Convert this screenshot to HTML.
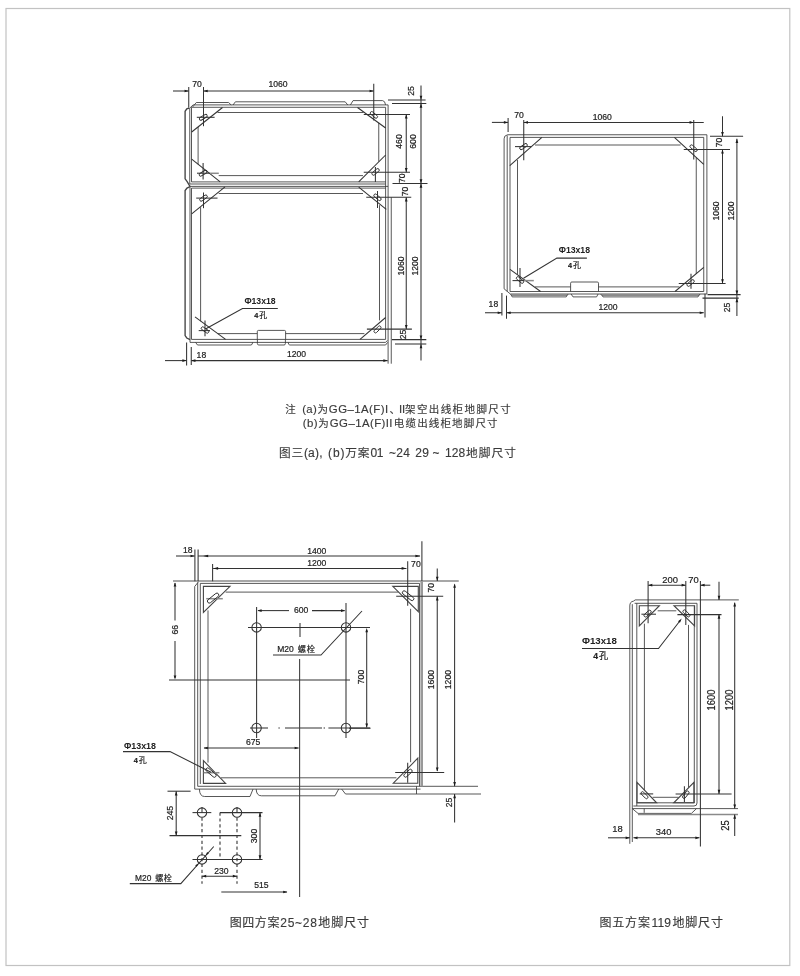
<!DOCTYPE html>
<html lang="zh">
<head>
<meta charset="utf-8">
<title>地脚尺寸</title>
<style>
html,body{margin:0;padding:0;background:#fff;}
body{width:800px;height:976px;overflow:hidden;font-family:"Liberation Sans","Noto Sans CJK SC",sans-serif;}
svg{display:block;position:absolute;left:0;top:0;filter:blur(.28px);}
svg line,svg path,svg rect,svg circle{fill:none;stroke-linecap:butt;stroke-linejoin:miter;}
.d{stroke:#333;stroke-width:1.05;}
.f{stroke:#3a3a3a;stroke-width:.85;}
.f2{stroke:#444;stroke-width:1.35;}
.g{stroke:#8a8a8a;stroke-width:1.5;}
.k{stroke:#999;stroke-width:2.6;}
.h{stroke:#444;stroke-width:1.1;}
.s{stroke:#2a2a2a;stroke-width:.9;fill:none;}
.da{stroke:#333;stroke-width:1.1;stroke-dasharray:3.2 2.6;}
.b{stroke:#c2c2c2;stroke-width:1.2;}
svg .a{fill:#1c1c1c;stroke:none;}
svg text{stroke:none;fill:#333;font-family:"Liberation Sans","Noto Sans CJK SC",sans-serif;}
svg .t{fill:#222;stroke:#222;stroke-width:.2;}
svg .tb{fill:#222;font-weight:bold;}
svg .c{fill:#3a3a3a;stroke:#3a3a3a;stroke-width:.15;}
</style>
</head>
<body>
<svg width="800" height="976" viewBox="0 0 800 976">
<rect class="b" x="6" y="8.5" width="783.8" height="957"/>
<!-- drawing 1 : fig 3(a) two stacked frames -->
<path class="f" d="M189.75 184 L189.75 108.1 L193.1 104.9 L388.1 104.9 L388.1 363.7"/>
<path class="f" d="M191.5 181.9 L191.5 107.3 L385.6 107.3 L385.6 339.4"/>
<line class="f" x1="191.5" y1="181.9" x2="385.6" y2="181.9"/>
<line class="f" x1="189.75" y1="184" x2="385.6" y2="184"/>
<path class="f" d="M192.6 107 L196.3 102.5 L228.6 102.5 L231.2 105"/>
<path class="f" d="M233 105 L235.4 101.8 L345.2 101.8 L347.8 105"/>
<path class="f" d="M350.4 105 L353 100.6 H382.6 Q385 100.8 385.6 104.9"/>
<path class="f2" d="M189.4 108 L186.8 108.8 L185.1 111.3 L185.1 178.8 L187 181.4 L190 186.3"/>
<line class="f" x1="217.5" y1="112.5" x2="363.5" y2="112.5"/>
<line class="f" x1="218.7" y1="175.6" x2="363" y2="175.6"/>
<line class="f" x1="198.1" y1="127" x2="198.1" y2="164.4"/>
<line class="f" x1="378.75" y1="122.8" x2="378.75" y2="161.6"/>
<line class="d" x1="222.5" y1="107.5" x2="191.7" y2="132"/>
<line class="d" x1="357.5" y1="107.5" x2="385.6" y2="128"/>
<line class="d" x1="191.7" y1="159.2" x2="220.2" y2="181.9"/>
<line class="d" x1="385.6" y1="155" x2="358.7" y2="181.9"/>
<rect class="s" x="199" y="115.8" width="8.6" height="3" rx="1.5" transform="rotate(-30 203.3 117.3)"/>
<rect class="s" x="369.6" y="113.4" width="8.6" height="3" rx="1.5" transform="rotate(40 373.9 114.9)"/>
<rect class="s" x="198.8" y="171.7" width="8.6" height="3" rx="1.5" transform="rotate(-30 203.1 173.2)"/>
<rect class="s" x="371.3" y="170.4" width="8.6" height="3" rx="1.5" transform="rotate(-40 375.6 171.9)"/>
<line class="d" x1="196.8" y1="117.3" x2="214.6" y2="117.3"/>
<line class="d" x1="203.1" y1="163" x2="203.1" y2="179.4"/>
<line class="d" x1="197" y1="173.2" x2="210" y2="173.2"/>
<line class="g" x1="210" y1="173.3" x2="218.8" y2="173.3"/>
<line class="d" x1="375.4" y1="166.9" x2="375.4" y2="181.9"/>
<line class="f" x1="190" y1="186.4" x2="388.1" y2="186.4"/>
<path class="f" d="M385.6 188.1 L191.5 188.1 L191.5 339.4 L385.6 339.4"/>
<path class="f" d="M190 186.4 L190 342.4 L385.6 342.4 L387.4 340.4"/>
<line class="f" x1="391.25" y1="197.25" x2="391.25" y2="363.7"/>
<path class="f2" d="M190 186.6 L187 188.1 L185.1 190.6 L185.1 335.6 L186.8 338 L190 339.6"/>
<line class="f" x1="218.7" y1="193.5" x2="363" y2="193.5"/>
<line class="f" x1="200.6" y1="207.2" x2="200.6" y2="321.3"/>
<line class="f" x1="379.5" y1="205.2" x2="379.5" y2="320.4"/>
<line class="f" x1="218" y1="333.6" x2="257.2" y2="333.6"/>
<line class="f" x1="285.6" y1="333.6" x2="364.4" y2="333.6"/>
<line class="d" x1="225" y1="186.9" x2="191.7" y2="213.8"/>
<line class="d" x1="358.7" y1="187.2" x2="386.3" y2="209.4"/>
<line class="d" x1="195" y1="316.9" x2="225.6" y2="339.4"/>
<line class="d" x1="385.6" y1="317.5" x2="360" y2="339.4"/>
<rect class="s" x="199.2" y="196.6" width="8.6" height="3" rx="1.5" transform="rotate(-35 203.5 198.1)"/>
<rect class="s" x="373.2" y="195.8" width="8.6" height="3" rx="1.5" transform="rotate(40 377.5 197.3)"/>
<rect class="s" x="200.7" y="328.5" width="8.6" height="3" rx="1.5" transform="rotate(35 205 330)"/>
<rect class="s" x="373.2" y="327.9" width="8.6" height="3" rx="1.5" transform="rotate(-45 377.5 329.4)"/>
<line class="d" x1="196.2" y1="198.1" x2="217.5" y2="198.1"/>
<line class="d" x1="203.5" y1="192.5" x2="203.5" y2="208.2"/>
<line class="d" x1="377.5" y1="191" x2="377.5" y2="208"/>
<line class="d" x1="205" y1="320.6" x2="205" y2="336.3"/>
<line class="d" x1="198.7" y1="330.6" x2="210" y2="330.6"/>
<path class="f" d="M257.3 339.4 V331.6 Q257.3 330.4 258.5 330.4 H284.4 Q285.6 330.4 285.6 331.6 V339.4"/>
<path class="f" d="M195.6 342.4 L197.5 345 H251 Q252.4 345 252.6 342.4"/>
<path class="f" d="M257.4 339.4 V343.6 Q257.4 345 258.8 345 H284 Q285.4 345 285.4 343.6 V339.4"/>
<path class="f" d="M288.2 342.4 Q288.4 345 289.8 345 H385.6 L387.6 342.4"/>
<line class="d" x1="173" y1="91" x2="188.75" y2="91"/>
<polygon class="a" points="188.75,91 184.55,92.35 184.55,89.65"/>
<line class="d" x1="203.5" y1="91" x2="373.75" y2="91"/>
<polygon class="a" points="203.5,91 207.7,89.65 207.7,92.35"/>
<polygon class="a" points="373.75,91 369.55,92.35 369.55,89.65"/>
<line class="d" x1="188.75" y1="87" x2="188.75" y2="107.5"/>
<line class="d" x1="203.5" y1="87" x2="203.5" y2="126.2"/>
<line class="d" x1="373.75" y1="83.75" x2="373.75" y2="120.5"/>
<text class="t" font-size="8.6" text-anchor="middle" x="197" y="87">70</text>
<text class="t" font-size="8.6" text-anchor="middle" x="278" y="87">1060</text>
<line class="d" x1="388" y1="100" x2="425.6" y2="100"/>
<line class="d" x1="392" y1="103.5" x2="426.3" y2="103.5"/>
<line class="d" x1="363.75" y1="114.4" x2="410" y2="114.4"/>
<line class="d" x1="363.75" y1="172.25" x2="410" y2="172.25"/>
<line class="d" x1="392.5" y1="183.5" x2="427.5" y2="183.5"/>
<line class="d" x1="366.25" y1="197.25" x2="411.25" y2="197.25"/>
<line class="d" x1="366.9" y1="329.1" x2="411.9" y2="329.1"/>
<line class="d" x1="391.9" y1="339.6" x2="426.3" y2="339.6"/>
<line class="d" x1="395" y1="344" x2="426.3" y2="344"/>
<line class="d" x1="406.25" y1="114.4" x2="406.25" y2="172.25"/>
<polygon class="a" points="406.25,114.4 407.6,118.6 404.9,118.6"/>
<polygon class="a" points="406.25,172.25 404.9,168.05 407.6,168.05"/>
<line class="d" x1="406.25" y1="197.25" x2="406.25" y2="329.1"/>
<polygon class="a" points="406.25,197.25 407.6,201.45 404.9,201.45"/>
<polygon class="a" points="406.25,329.1 404.9,324.9 407.6,324.9"/>
<line class="d" x1="421" y1="85.6" x2="421" y2="360.6"/>
<polygon class="a" points="421,100 419.65,95.8 422.35,95.8"/>
<polygon class="a" points="421,103.5 422.35,107.7 419.65,107.7"/>
<polygon class="a" points="421,183.5 419.65,179.3 422.35,179.3"/>
<polygon class="a" points="421,183.5 422.35,187.7 419.65,187.7"/>
<polygon class="a" points="421,339.6 419.65,335.4 422.35,335.4"/>
<polygon class="a" points="421,344 422.35,348.2 419.65,348.2"/>
<text class="t" font-size="8.6" text-anchor="middle" transform="translate(414.01 91) rotate(-90) scale(1 1.1)" x="0" y="0">25</text>
<text class="t" font-size="8.6" text-anchor="middle" transform="translate(402.16 141.5) rotate(-90) scale(1 1.1)" x="0" y="0">460</text>
<text class="t" font-size="8.6" text-anchor="middle" transform="translate(416.41 141.5) rotate(-90) scale(1 1.1)" x="0" y="0">600</text>
<text class="t" font-size="8.6" text-anchor="middle" transform="translate(404.66 178.2) rotate(-90) scale(1 1.1)" x="0" y="0">70</text>
<text class="t" font-size="8.6" text-anchor="middle" transform="translate(407.81 191.6) rotate(-90) scale(1 1.1)" x="0" y="0">70</text>
<text class="t" font-size="8.6" text-anchor="middle" transform="translate(403.91 266) rotate(-90) scale(1 1.1)" x="0" y="0">1060</text>
<text class="t" font-size="8.6" text-anchor="middle" transform="translate(417.71 266) rotate(-90) scale(1 1.1)" x="0" y="0">1200</text>
<text class="t" font-size="8.6" text-anchor="middle" transform="translate(405.51 334.6) rotate(-90) scale(1 1.1)" x="0" y="0">25</text>
<line class="d" x1="165" y1="360.6" x2="186.6" y2="360.6"/>
<polygon class="a" points="186.6,360.6 182.4,361.95 182.4,359.25"/>
<line class="d" x1="191.25" y1="360.6" x2="387.6" y2="360.6"/>
<polygon class="a" points="191.25,360.6 195.45,359.25 195.45,361.95"/>
<polygon class="a" points="387.6,360.6 383.4,361.95 383.4,359.25"/>
<line class="d" x1="186.6" y1="342.5" x2="186.6" y2="365.6"/>
<line class="d" x1="191.25" y1="346.9" x2="191.25" y2="365"/>
<text class="t" font-size="8.6" text-anchor="middle" x="201.4" y="358">18</text>
<text class="t" font-size="8.6" text-anchor="middle" x="296.5" y="356.5">1200</text>
<path class="d" d="M205.5 329 L242.5 308.5 L277.8 308.5"/>
<text class="tb" font-size="8.7" text-anchor="middle" textLength="31.2" lengthAdjust="spacing" x="260" y="304.4">Φ13x18</text>
<text class="t" y="318.2" xml:space="preserve"><tspan x="254.2" font-size="7.3" font-weight="bold">4</tspan><tspan x="259.2" font-size="8">孔</tspan></text>
<!-- drawing 2 : fig 3(b) single frame -->
<path class="f" d="M507.5 134.75 L706.9 134.75 L706.9 294 L510.4 294"/>
<path class="f" d="M510 291.5 L510 137.4 L703.75 137.4 L703.75 291.5 L510 291.5"/>
<line class="f" x1="507.2" y1="135.4" x2="507.2" y2="291.4"/>
<path class="f" d="M507.5 134.75 L504.8 136.2 L504.1 138.8 L504.1 288.8 L510.4 294"/>
<line class="f" x1="535" y1="145" x2="680.6" y2="145"/>
<line class="f" x1="517.5" y1="160" x2="517.5" y2="274.6"/>
<line class="f" x1="696.25" y1="157.6" x2="696.25" y2="274"/>
<line class="f" x1="535" y1="286.9" x2="570.6" y2="286.9"/>
<line class="f" x1="598.5" y1="286.9" x2="679.4" y2="286.9"/>
<line class="d" x1="541.9" y1="137.4" x2="509.8" y2="165.7"/>
<line class="d" x1="674.4" y1="137.4" x2="703.75" y2="164.4"/>
<line class="d" x1="510" y1="269.4" x2="540.6" y2="291.5"/>
<line class="d" x1="703.75" y1="267.4" x2="675" y2="291.5"/>
<rect class="s" x="519.2" y="145.1" width="8.6" height="3" rx="1.5" transform="rotate(-35 523.5 146.6)"/>
<rect class="s" x="689.3" y="146.7" width="8.6" height="3" rx="1.5" transform="rotate(40 693.6 148.2)"/>
<rect class="s" x="515.7" y="278.5" width="8.6" height="3" rx="1.5" transform="rotate(40 520 280)"/>
<rect class="s" x="686.3" y="281.5" width="8.6" height="3" rx="1.5" transform="rotate(-40 690.6 283)"/>
<line class="d" x1="515" y1="146.6" x2="531.3" y2="146.6"/>
<line class="d" x1="520" y1="268.1" x2="520" y2="287"/>
<line class="d" x1="512.5" y1="280.6" x2="524" y2="280.6"/>
<line class="g" x1="524" y1="280.6" x2="533.8" y2="280.6"/>
<line class="d" x1="691" y1="273.8" x2="691" y2="288.8"/>
<path class="f" d="M570.6 291.5 V283.2 Q570.6 282 571.8 282 H597.3 Q598.5 282 598.5 283.2 V291.5"/>
<path class="f" d="M510.6 294 L512.2 296.9 L566.2 296.9 L568.1 294"/>
<line class="f" x1="511.6" y1="295.2" x2="567" y2="295.2"/>
<path class="f" d="M571.1 294 L573 296.9 L596.6 296.9 L598.1 294"/>
<path class="f" d="M600.7 294 L603 296.9 L698 296.9 L700 294"/>
<line class="f" x1="602" y1="295.2" x2="699" y2="295.2"/>
<line class="d" x1="491.9" y1="122.4" x2="508.1" y2="122.4"/>
<polygon class="a" points="508.1,122.4 503.9,123.75 503.9,121.05"/>
<line class="d" x1="523.75" y1="122.4" x2="703.75" y2="122.4"/>
<polygon class="a" points="523.75,122.4 527.95,121.05 527.95,123.75"/>
<polygon class="a" points="693.75,122.4 689.55,123.75 689.55,121.05"/>
<line class="d" x1="508.1" y1="118.1" x2="508.1" y2="131.9"/>
<line class="d" x1="523.75" y1="120" x2="523.75" y2="160.2"/>
<line class="d" x1="693.75" y1="120" x2="693.75" y2="159.6"/>
<text class="t" font-size="8.6" text-anchor="middle" x="519.1" y="117.5">70</text>
<text class="t" font-size="8.6" text-anchor="middle" x="602.3" y="119.5">1060</text>
<line class="d" x1="710" y1="136.25" x2="743.1" y2="136.25"/>
<line class="d" x1="683.75" y1="149.4" x2="730" y2="149.4"/>
<line class="d" x1="678.75" y1="283.5" x2="725.6" y2="283.5"/>
<line class="d" x1="707.5" y1="294.6" x2="740.6" y2="294.6"/>
<line class="d" x1="702.5" y1="298.1" x2="738.75" y2="298.1"/>
<line class="d" x1="705" y1="293.75" x2="705" y2="317.5"/>
<line class="d" x1="722.5" y1="116.25" x2="722.5" y2="136.25"/>
<polygon class="a" points="722.5,136.25 721.15,132.05 723.85,132.05"/>
<line class="d" x1="722.5" y1="149.4" x2="722.5" y2="283.5"/>
<polygon class="a" points="722.5,149.4 723.85,153.6 721.15,153.6"/>
<polygon class="a" points="722.5,283.5 721.15,279.3 723.85,279.3"/>
<line class="d" x1="736.9" y1="138.75" x2="736.9" y2="316"/>
<polygon class="a" points="736.9,138.75 738.25,142.95 735.55,142.95"/>
<polygon class="a" points="736.9,294.6 735.55,290.4 738.25,290.4"/>
<polygon class="a" points="736.9,298.1 738.25,302.3 735.55,302.3"/>
<text class="t" font-size="8.6" text-anchor="middle" transform="translate(721.51 142.4) rotate(-90) scale(1 1.1)" x="0" y="0">70</text>
<text class="t" font-size="8.6" text-anchor="middle" transform="translate(719.16 211) rotate(-90) scale(1 1.1)" x="0" y="0">1060</text>
<text class="t" font-size="8.6" text-anchor="middle" transform="translate(733.91 211) rotate(-90) scale(1 1.1)" x="0" y="0">1200</text>
<text class="t" font-size="8.6" text-anchor="middle" transform="translate(729.66 307.5) rotate(-90) scale(1 1.1)" x="0" y="0">25</text>
<line class="d" x1="485" y1="312.75" x2="501.9" y2="312.75"/>
<polygon class="a" points="501.9,312.75 497.7,314.1 497.7,311.4"/>
<line class="d" x1="506.5" y1="312.75" x2="703.75" y2="312.75"/>
<polygon class="a" points="506.5,312.75 510.7,311.4 510.7,314.1"/>
<polygon class="a" points="703.9,312.75 699.7,314.1 699.7,311.4"/>
<line class="d" x1="501.9" y1="293.1" x2="501.9" y2="315.6"/>
<line class="d" x1="506.5" y1="295.6" x2="506.5" y2="318.75"/>
<text class="t" font-size="8.6" text-anchor="middle" x="493.4" y="306.5">18</text>
<text class="t" font-size="8.6" text-anchor="middle" x="608.1" y="309.75">1200</text>
<path class="d" d="M523.5 278.2 L556.9 258.1 L586.9 258.1"/>
<text class="tb" font-size="8.7" text-anchor="middle" textLength="31.2" lengthAdjust="spacing" x="574.4" y="253.1">Φ13x18</text>
<text class="t" y="267.6" xml:space="preserve"><tspan x="568" font-size="7.3" font-weight="bold">4</tspan><tspan x="573" font-size="8">孔</tspan></text>
<!-- drawing 3 : fig 4 -->
<line class="g" x1="173" y1="581" x2="458.75" y2="581"/>
<path class="f" d="M200.3 784 L200.3 583.4 L419.5 583.4 L419.5 786.3"/>
<path class="f" d="M198.4 581.9 L194.7 586.5 L194.7 789.1 L420.5 789.1"/>
<path class="f" d="M197.7 582.6 L197.7 786.3 L478 786.3"/>
<line class="k" x1="421.7" y1="581" x2="421.7" y2="786.3"/>
<line class="f" x1="416.5" y1="786.3" x2="416.5" y2="794"/>
<path class="f" d="M199.4 789.1 Q199.6 796.5 204.6 796.5 H250 L253 789.1"/>
<path class="f" d="M256.2 789.1 Q256.4 795.8 261.4 795.8 H335 L338.7 789.1"/>
<path class="f" d="M341.7 789.1 L345.5 794 L481 794"/>
<line class="f" x1="225.6" y1="592.1" x2="398.4" y2="592.1"/>
<line class="f" x1="208" y1="610.4" x2="208" y2="762.6"/>
<line class="f" x1="410.6" y1="608.8" x2="410.6" y2="762.2"/>
<line class="f" x1="221" y1="777.8" x2="396.4" y2="777.8"/>
<path class="h" d="M203.4 586.4 L230 586.4 L203.4 612.5 Z"/>
<path class="h" d="M392.8 586.4 L418.3 586.4 L418.3 611.6 Z"/>
<path class="h" d="M203.4 760.6 L203.4 783.4 L225.6 783.4 Z"/>
<path class="h" d="M417.8 758.2 L417.8 783.2 L393.3 783.2 Z"/>
<line class="g" x1="206.2" y1="598.7" x2="222.8" y2="598.7"/>
<line class="g" x1="203.7" y1="772.7" x2="219.4" y2="772.7"/>
<line class="d" x1="407.7" y1="762.7" x2="407.7" y2="782.7"/>
<rect class="s" x="206.3" y="596.2" width="13.6" height="3.8" rx="1.9" transform="rotate(-39 213.1 598.1)"/>
<rect class="s" x="401.3" y="593.9" width="13.6" height="3.6" rx="1.8" transform="rotate(38 408.1 595.7)"/>
<rect class="s" x="204.8" y="770.8" width="12.4" height="3.6" rx="1.8" transform="rotate(40 211 772.6)"/>
<rect class="s" x="403" y="771.5" width="10" height="3.4" rx="1.7" transform="rotate(-42 408 773.2)"/>
<circle class="d" cx="256.6" cy="627.4" r="4.7"/>
<circle class="d" cx="256.6" cy="728" r="4.7"/>
<circle class="d" cx="346" cy="627.4" r="4.7"/>
<circle class="d" cx="346" cy="728" r="4.7"/>
<line class="d" x1="256.6" y1="607" x2="256.6" y2="738"/>
<line class="d" x1="346" y1="603" x2="346" y2="738"/>
<line class="d" x1="248" y1="627.4" x2="370" y2="627.4"/>
<line class="d" x1="250" y1="728" x2="268" y2="728"/>
<line class="d" x1="278.4" y1="728" x2="279.8" y2="728"/>
<line class="d" x1="285" y1="728" x2="322" y2="728"/>
<line class="d" x1="323.6" y1="728" x2="325" y2="728"/>
<line class="d" x1="328.4" y1="728" x2="370" y2="728"/>
<line class="d" x1="300" y1="623" x2="300" y2="637"/>
<line class="h" x1="299.6" y1="659" x2="299.6" y2="897"/>
<line class="d" x1="169" y1="679.9" x2="350" y2="679.9"/>
<line class="d" x1="258" y1="610.6" x2="289" y2="610.6"/>
<polygon class="a" points="257.4,610.6 261.6,609.25 261.6,611.95"/>
<line class="d" x1="312" y1="610.6" x2="344.6" y2="610.6"/>
<polygon class="a" points="345.2,610.6 341,611.95 341,609.25"/>
<text class="t" font-size="8.6" text-anchor="middle" x="301.1" y="613.2">600</text>
<line class="d" x1="366.7" y1="630" x2="366.7" y2="727.4"/>
<polygon class="a" points="366.7,628 368.05,632.2 365.35,632.2"/>
<polygon class="a" points="366.7,727.6 365.35,723.4 368.05,723.4"/>
<line class="d" x1="349" y1="728.2" x2="370.6" y2="728.2"/>
<text class="t" font-size="8.6" text-anchor="middle" transform="translate(363.81 677) rotate(-90) scale(1 1.1)" x="0" y="0">700</text>
<line class="d" x1="204" y1="748" x2="298.6" y2="748"/>
<polygon class="a" points="203.6,748 207.8,746.65 207.8,749.35"/>
<polygon class="a" points="298.8,748 294.6,749.35 294.6,746.65"/>
<text class="t" font-size="8.6" text-anchor="middle" x="253.2" y="745">675</text>
<path class="d" d="M273 655 L321 655 L362 611"/>
<text class="t" y="651.6" xml:space="preserve"><tspan x="277.2" font-size="8.5">M20 </tspan><tspan x="297.8" font-size="8.2" textLength="17.1" lengthAdjust="spacing">螺栓</tspan></text>
<line class="d" x1="176" y1="556" x2="194.7" y2="556"/>
<polygon class="a" points="194.7,556 190.5,557.35 190.5,554.65"/>
<line class="d" x1="198.1" y1="556" x2="420" y2="556"/>
<polygon class="a" points="203.2,556 208.2,554.65 208.2,557.35"/>
<polygon class="a" points="420.4,556 415.4,557.35 415.4,554.65"/>
<line class="d" x1="194.9" y1="549.4" x2="194.9" y2="581.2"/>
<line class="d" x1="198.1" y1="549.4" x2="198.1" y2="581.2"/>
<line class="d" x1="213.1" y1="568.4" x2="406.4" y2="568.4"/>
<polygon class="a" points="213.1,568.4 218.1,567.05 218.1,569.75"/>
<polygon class="a" points="406.6,568.4 401.6,569.75 401.6,567.05"/>
<line class="d" x1="212.6" y1="564" x2="212.6" y2="581.2"/>
<line class="d" x1="407.7" y1="561.2" x2="407.7" y2="605.8"/>
<line class="d" x1="421.9" y1="541.2" x2="421.9" y2="581"/>
<text class="t" font-size="8.6" text-anchor="middle" x="187.7" y="552.5">18</text>
<text class="t" font-size="8.6" text-anchor="middle" x="316.7" y="553.6">1400</text>
<text class="t" font-size="8.6" text-anchor="middle" x="316.7" y="566">1200</text>
<text class="t" font-size="8.6" text-anchor="middle" x="415.9" y="566.9">70</text>
<line class="d" x1="175" y1="583" x2="175" y2="620.6"/>
<line class="d" x1="175" y1="641" x2="175" y2="678"/>
<polygon class="a" points="175,582.4 176.35,586.6 173.65,586.6"/>
<polygon class="a" points="175,679.6 173.65,675.4 176.35,675.4"/>
<text class="t" font-size="8.6" text-anchor="middle" transform="translate(177.81 629.8) rotate(-90) scale(1 1.1)" x="0" y="0">66</text>
<line class="d" x1="396.2" y1="596.2" x2="443.2" y2="596.2"/>
<line class="d" x1="395.2" y1="772.4" x2="444.2" y2="772.4"/>
<line class="d" x1="437.25" y1="568.5" x2="437.25" y2="581"/>
<polygon class="a" points="437.25,581 435.9,576.8 438.6,576.8"/>
<line class="d" x1="437.25" y1="596.2" x2="437.25" y2="771"/>
<polygon class="a" points="437.25,596.2 438.6,600.4 435.9,600.4"/>
<polygon class="a" points="437.25,771.6 435.9,767.4 438.6,767.4"/>
<line class="d" x1="454.6" y1="584.4" x2="454.6" y2="786.3"/>
<polygon class="a" points="454.6,583.6 455.95,587.8 453.25,587.8"/>
<polygon class="a" points="454.6,786.3 453.25,782.1 455.95,782.1"/>
<line class="d" x1="454.6" y1="794" x2="454.6" y2="822.5"/>
<polygon class="a" points="454.6,794 455.95,798.2 453.25,798.2"/>
<text class="t" font-size="8.6" text-anchor="middle" transform="translate(434.41 587.8) rotate(-90) scale(1 1.1)" x="0" y="0">70</text>
<text class="t" font-size="8.6" text-anchor="middle" transform="translate(434.41 679.6) rotate(-90) scale(1 1.1)" x="0" y="0">1600</text>
<text class="t" font-size="8.6" text-anchor="middle" transform="translate(451.41 679.6) rotate(-90) scale(1 1.1)" x="0" y="0">1200</text>
<text class="t" font-size="8.6" text-anchor="middle" transform="translate(452.11 802.6) rotate(-90) scale(1 1.1)" x="0" y="0">25</text>
<path class="d" d="M123 751.6 L170 751.6 L211 772.2"/>
<text class="tb" font-size="8.9" text-anchor="middle" textLength="31.9" lengthAdjust="spacing" x="140" y="748.9">Φ13x18</text>
<text class="t" y="763" xml:space="preserve"><tspan x="133.7" font-size="7.3" font-weight="bold">4</tspan><tspan x="138.7" font-size="8">孔</tspan></text>
<circle class="d" cx="202" cy="812.6" r="4.7"/>
<circle class="d" cx="202" cy="859.4" r="4.7"/>
<circle class="d" cx="237" cy="812.6" r="4.7"/>
<circle class="d" cx="237" cy="859.4" r="4.7"/>
<line class="d" x1="192.5" y1="812.6" x2="211.3" y2="812.6"/>
<line class="d" x1="220" y1="812.6" x2="262.5" y2="812.6"/>
<line class="d" x1="192.5" y1="859.4" x2="262.5" y2="859.4"/>
<line class="d" x1="202" y1="807" x2="202" y2="812.6"/>
<line class="d" x1="237" y1="807" x2="237" y2="812.6"/>
<line class="da" x1="202" y1="817.5" x2="202" y2="883.8"/>
<line class="da" x1="237" y1="817.5" x2="237" y2="883.8"/>
<line class="da" x1="220" y1="812.6" x2="220" y2="859.4"/>
<line class="d" x1="167.5" y1="791.2" x2="190.6" y2="791.2"/>
<line class="d" x1="169.5" y1="835.6" x2="241.3" y2="835.6"/>
<line class="d" x1="176.2" y1="791.2" x2="176.2" y2="835.6"/>
<polygon class="a" points="176.2,791.2 177.55,795.4 174.85,795.4"/>
<polygon class="a" points="176.2,835.6 174.85,831.4 177.55,831.4"/>
<text class="t" font-size="8.6" text-anchor="middle" transform="translate(173.41 813.2) rotate(-90) scale(1 1.1)" x="0" y="0">245</text>
<line class="d" x1="260" y1="812.6" x2="260" y2="859.4"/>
<polygon class="a" points="260,812.6 261.35,816.8 258.65,816.8"/>
<polygon class="a" points="260,859.4 258.65,855.2 261.35,855.2"/>
<text class="t" font-size="8.6" text-anchor="middle" transform="translate(257.01 836) rotate(-90) scale(1 1.1)" x="0" y="0">300</text>
<line class="d" x1="202" y1="876.2" x2="237" y2="876.2"/>
<polygon class="a" points="202,876.2 206.2,874.85 206.2,877.55"/>
<polygon class="a" points="237,876.2 232.8,877.55 232.8,874.85"/>
<text class="t" font-size="8.6" text-anchor="middle" x="221.3" y="873.8">230</text>
<line class="d" x1="221.3" y1="892" x2="287" y2="892"/>
<polygon class="a" points="287.4,892 283.2,893.35 283.2,890.65"/>
<text class="t" font-size="8.6" text-anchor="middle" x="261.3" y="888">515</text>
<path class="d" d="M129.8 883.6 L180.8 883.6 L213.8 846.5"/>
<polygon class="a" points="198.4,863.4 196.83,866.82 195.19,865.36"/>
<polygon class="a" points="205.6,855.4 207.17,851.98 208.81,853.44"/>
<text class="t" y="880.8" xml:space="preserve"><tspan x="135" font-size="8.4">M20 </tspan><tspan x="155.2" font-size="8.1" textLength="16.6" lengthAdjust="spacing">螺栓</tspan></text>
<!-- drawing 4 : fig 5 -->
<path class="f" d="M629.8 843.8 V606 Q629.8 601.6 633.4 601.2 L635.2 599.9 H738.8"/>
<path class="f" d="M632.3 842 V604.2"/>
<path class="f" d="M634.6 603.3 H697 V803 Q697 806 694 806 H633.3"/>
<line class="f" x1="636.8" y1="603.3" x2="636.8" y2="806"/>
<line class="f" x1="694.3" y1="605.7" x2="694.3" y2="803"/>
<line class="f" x1="636.8" y1="802.8" x2="694.3" y2="802.8"/>
<line class="f" x1="632.3" y1="808.6" x2="738" y2="808.6"/>
<path class="f" d="M632.3 808.6 L638 813.4 L691.4 813.4 L696.5 808.6"/>
<line class="g" x1="638" y1="814.6" x2="738" y2="814.6"/>
<line class="f" x1="644.2" y1="808.6" x2="644.2" y2="812.8"/>
<line class="d" x1="700.4" y1="581" x2="700.4" y2="846.5"/>
<line class="f" x1="657.7" y1="610.8" x2="676.3" y2="610.8"/>
<line class="f" x1="644.4" y1="623.7" x2="644.4" y2="790"/>
<line class="f" x1="688.5" y1="624.9" x2="688.5" y2="787.4"/>
<line class="f" x1="652.6" y1="797.3" x2="678.5" y2="797.3"/>
<path class="h" d="M639.3 605.7 L659.4 605.7 L639.3 626 Z"/>
<path class="h" d="M674 605.7 L694.6 605.7 L694.6 626 Z"/>
<path class="h" d="M637 782.4 L637 802.8 L656.6 802.8 Z"/>
<path class="h" d="M693.9 782.4 L693.9 802.8 L673.8 802.8 Z"/>
<line class="d" x1="641.4" y1="614.2" x2="656" y2="614.2"/>
<line class="d" x1="648.1" y1="581" x2="648.1" y2="623.2"/>
<line class="d" x1="677.4" y1="614.6" x2="721.5" y2="614.6"/>
<line class="d" x1="685.8" y1="581" x2="685.8" y2="625"/>
<line class="d" x1="639.7" y1="793.9" x2="653.2" y2="793.9"/>
<line class="d" x1="675.6" y1="794" x2="731.6" y2="794"/>
<line class="d" x1="684.4" y1="786.3" x2="684.4" y2="802"/>
<rect class="s" x="643.3" y="612.1" width="8.6" height="3" rx="1.5" transform="rotate(-42 647.6 613.6)"/>
<rect class="s" x="682.1" y="611.9" width="8.6" height="3" rx="1.5" transform="rotate(45 686.4 613.4)"/>
<rect class="s" x="640.2" y="793.7" width="8.6" height="3" rx="1.5" transform="rotate(45 644.5 795.2)"/>
<rect class="s" x="681.5" y="793.2" width="8.6" height="3" rx="1.5" transform="rotate(-52 685.8 794.7)"/>
<line class="d" x1="648.3" y1="585.2" x2="685.6" y2="585.2"/>
<polygon class="a" points="648.1,585.2 652.3,583.85 652.3,586.55"/>
<polygon class="a" points="685.8,585.2 681.6,586.55 681.6,583.85"/>
<line class="d" x1="710.3" y1="585.2" x2="700.4" y2="585.2"/>
<polygon class="a" points="700.4,585.2 704.6,583.85 704.6,586.55"/>
<text class="t" font-size="9.4" text-anchor="middle" x="670.1" y="582.5">200</text>
<text class="t" font-size="9.4" text-anchor="middle" x="693.4" y="582.5">70</text>
<line class="d" x1="719" y1="581.8" x2="719" y2="599.9"/>
<polygon class="a" points="719,599.9 717.65,595.7 720.35,595.7"/>
<line class="d" x1="719" y1="614.6" x2="719" y2="794"/>
<polygon class="a" points="719,614.6 720.35,618.8 717.65,618.8"/>
<polygon class="a" points="719,794 717.65,789.8 720.35,789.8"/>
<line class="d" x1="734.7" y1="602.8" x2="734.7" y2="808.6"/>
<polygon class="a" points="734.7,602.2 736.05,606.4 733.35,606.4"/>
<polygon class="a" points="734.7,808.6 733.35,804.4 736.05,804.4"/>
<line class="d" x1="734.7" y1="814.6" x2="734.7" y2="836"/>
<polygon class="a" points="734.7,814.6 736.05,818.8 733.35,818.8"/>
<text class="t" font-size="9.4" text-anchor="middle" transform="translate(715.32 700) rotate(-90) scale(1 1.1)" x="0" y="0">1600</text>
<text class="t" font-size="9.4" text-anchor="middle" transform="translate(732.72 700) rotate(-90) scale(1 1.1)" x="0" y="0">1200</text>
<text class="t" font-size="9.4" text-anchor="middle" transform="translate(728.72 825.5) rotate(-90) scale(1 1.1)" x="0" y="0">25</text>
<line class="d" x1="608" y1="837.8" x2="629.8" y2="837.8"/>
<polygon class="a" points="629.8,837.8 625.6,839.15 625.6,836.45"/>
<line class="d" x1="633.5" y1="837.8" x2="699.4" y2="837.8"/>
<polygon class="a" points="633.3,837.8 637.5,836.45 637.5,839.15"/>
<polygon class="a" points="699.6,837.8 695.4,839.15 695.4,836.45"/>
<text class="t" font-size="9.4" text-anchor="middle" x="617.5" y="832.4">18</text>
<text class="t" font-size="9.4" text-anchor="middle" x="663.6" y="834.6">340</text>
<path class="d" d="M582 648.5 L658.5 648.5 L680.4 620.2"/>
<polygon class="a" points="681.7,618.6 679.96,622.82 678.06,621.35"/>
<text class="tb" font-size="9.7" text-anchor="middle" textLength="34.8" lengthAdjust="spacing" x="599.4" y="644">Φ13x18</text>
<text class="t" y="659.4" xml:space="preserve"><tspan x="593.2" font-size="8.6" font-weight="bold">4</tspan><tspan x="599" font-size="9.2">孔</tspan></text>
<!-- captions -->
<text class="c" y="413" xml:space="preserve"><tspan x="285.2" font-size="10.5">注 </tspan><tspan x="302.2" font-size="11.4" textLength="14.5" lengthAdjust="spacing">(a)</tspan><tspan x="317.6" font-size="10.5">为</tspan><tspan x="328.8" font-size="11.4" textLength="59.4" lengthAdjust="spacing">GG–1A(F)I</tspan><tspan x="389.6" font-size="10.5">、</tspan><tspan x="398.9" font-size="11.4">II</tspan><tspan x="405" font-size="10.5" textLength="105.7" lengthAdjust="spacing">架空出线柜地脚尺寸</tspan></text>
<text class="c" y="427.3" xml:space="preserve"><tspan x="302.8" font-size="11.4" textLength="14.7" lengthAdjust="spacing">(b)</tspan><tspan x="318.3" font-size="10.5">为</tspan><tspan x="329.8" font-size="11.4" textLength="62.7" lengthAdjust="spacing">GG–1A(F)II</tspan><tspan x="393.8" font-size="10.5" textLength="103.8" lengthAdjust="spacing">电缆出线柜地脚尺寸</tspan></text>
<text class="c" y="457.2" xml:space="preserve"><tspan x="278.9" font-size="11.7" textLength="24.2" lengthAdjust="spacing">图三</tspan><tspan x="303.9" font-size="12" textLength="22.2" lengthAdjust="spacing">(a), </tspan><tspan x="328.1" font-size="12" textLength="16.4" lengthAdjust="spacing">(b)</tspan><tspan x="345.3" font-size="11.7" textLength="24.2" lengthAdjust="spacing">万案</tspan><tspan x="370.6" font-size="12" textLength="15.8" lengthAdjust="spacing">01 </tspan><tspan x="389" font-size="12" textLength="24.6" lengthAdjust="spacing">~24 </tspan><tspan x="415.3" font-size="12" textLength="17" lengthAdjust="spacing">29 </tspan><tspan x="432.6" font-size="12" textLength="10.2" lengthAdjust="spacing">~ </tspan><tspan x="444.9" font-size="12" textLength="20.3" lengthAdjust="spacing">128</tspan><tspan x="466.1" font-size="11.7" textLength="49.9" lengthAdjust="spacing">地脚尺寸</tspan></text>
<text class="c" y="926.7" xml:space="preserve"><tspan x="229.7" font-size="12" textLength="49.7" lengthAdjust="spacing">图四方案</tspan><tspan x="280.3" font-size="12" textLength="36.6" lengthAdjust="spacing">25~28</tspan><tspan x="318.2" font-size="12" textLength="50.8" lengthAdjust="spacing">地脚尺寸</tspan></text>
<text class="c" y="926.7" xml:space="preserve"><tspan x="599.4" font-size="12" textLength="50.6" lengthAdjust="spacing">图五方案</tspan><tspan x="651.6" font-size="12" textLength="19.4" lengthAdjust="spacing">119</tspan><tspan x="672.4" font-size="12" textLength="50.6" lengthAdjust="spacing">地脚尺寸</tspan></text>
</svg>
</body>
</html>
